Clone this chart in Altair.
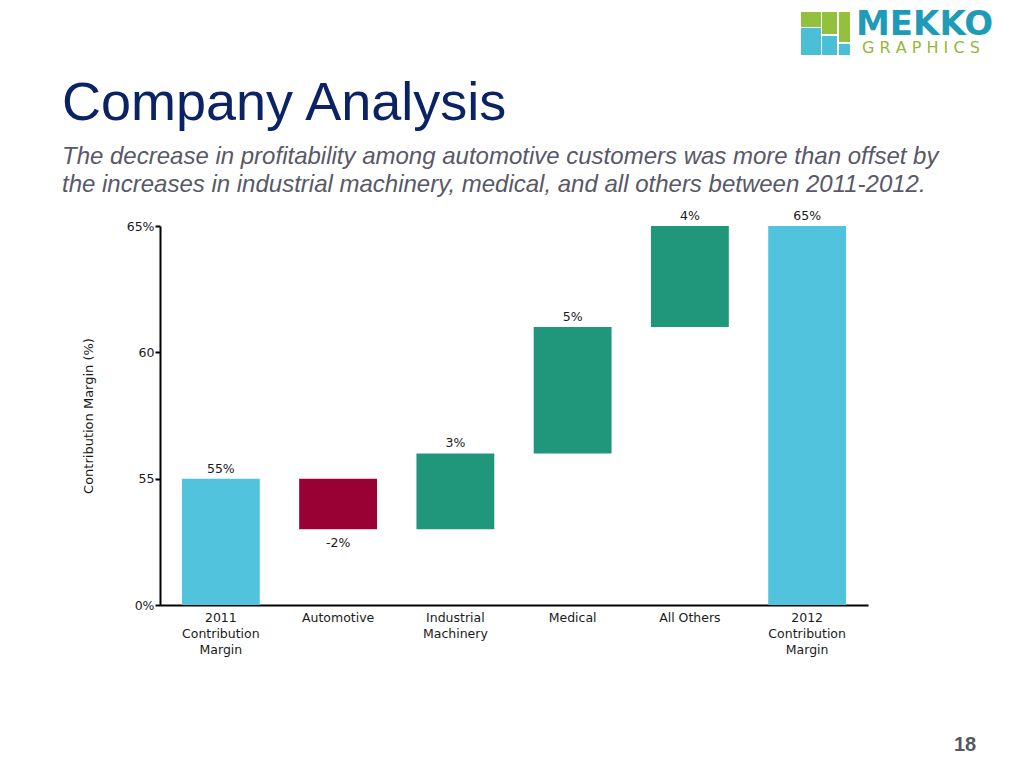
import altair as alt
import pandas as pd

categories = ["2011|Contribution|Margin", "Automotive", "Industrial|Machinery",
              "Medical", "All Others", "2012|Contribution|Margin"]
starts = [0, 55, 53, 56, 61, 0]
ends = [55, 53, 56, 61, 65, 65]
kinds = ["total", "neg", "pos", "pos", "pos", "total"]
value_labels = ["55%", "-2%", "3%", "5%", "4%", "65%"]
y_ticks = [0, 55, 60, 65]

title_text = "Company Analysis"
subtitle_lines = [
    "The decrease in profitability among automotive customers was more than offset by",
    "the increases in industrial machinery, medical, and all others between 2011-2012.",
]
page_number = "18"

df = pd.DataFrame({
    "cat": categories,
    "start": starts,
    "end": ends,
    "kind": kinds,
    "label": value_labels,
})
df["top"] = df[["start", "end"]].max(axis=1)
df["bottom"] = df[["start", "end"]].min(axis=1)

W, H = 708, 379
FONT = "DejaVu Sans"

xscale = alt.Scale(domain=categories, paddingInner=0.336, paddingOuter=0.187)
# broken axis: everything from 0 to 50 collapses onto the baseline
yscale = alt.Scale(domain=[0, 50, 65], range=[H, H, 0], nice=False, zero=False)

base = alt.Chart(df)

bars = base.mark_bar().encode(
    x=alt.X("cat:N", scale=xscale, sort=categories, title=None,
            axis=alt.Axis(labelExpr="split(datum.label, '|')", labelAngle=0,
                          labelFont=FONT, labelFontSize=12.5, labelColor="#1a1a1a",
                          labelLineHeight=16, labelPadding=6, ticks=False,
                          domainColor="#000000", domainWidth=2, labelBaseline="top")),
    y=alt.Y("start:Q", scale=yscale, title="Contribution Margin (%)",
            axis=alt.Axis(values=y_ticks, grid=False,
                          labelExpr="(datum.value == 0 || datum.value == 65) ? datum.value + '%' : datum.value",
                          labelFont=FONT, labelFontSize=12.5, labelColor="#1a1a1a",
                          labelPadding=1, tickSize=5, tickWidth=2, tickColor="#000000",
                          domainColor="#000000", domainWidth=2,
                          titleFont=FONT, titleFontSize=13, titleFontWeight="normal",
                          titleColor="#1a1a1a", titleX=-72, titleAngle=-90,
                          titleAlign="center", titleBaseline="middle")),
    y2="end:Q",
    color=alt.Color("kind:N", legend=None,
                    scale=alt.Scale(domain=["total", "neg", "pos"],
                                    range=["#52C3DC", "#990033", "#20967A"])),
)

labels_up = base.transform_filter("datum.kind != 'neg'").mark_text(
    font=FONT, fontSize=12.5, color="#1a1a1a", baseline="alphabetic", dy=-6
).encode(x=alt.X("cat:N", scale=xscale, sort=categories),
         y=alt.Y("top:Q", scale=yscale), text="label:N")

labels_down = base.transform_filter("datum.kind == 'neg'").mark_text(
    font=FONT, fontSize=12.5, color="#1a1a1a", baseline="alphabetic", dy=18
).encode(x=alt.X("cat:N", scale=xscale, sort=categories),
         y=alt.Y("bottom:Q", scale=yscale), text="label:N")

one = pd.DataFrame({"k": [0]})

title = alt.Chart(one).mark_text(
    text=title_text, font="Liberation Sans", fontSize=54, color="#0B2265",
    align="left", baseline="alphabetic"
).encode(x=alt.value(-98), y=alt.value(-106))

subtitle = alt.Chart(one).mark_text(
    text=subtitle_lines, font="Liberation Sans", fontSize=24, fontStyle="italic",
    color="#585868", align="left", baseline="alphabetic", lineHeight=28
).encode(x=alt.value(-98), y=alt.value(-62))

# logo decoration
logo_rects = pd.DataFrame({
    "x1": [641, 662, 679, 641, 662, 679],
    "x2": [661, 677, 690, 661, 677, 690],
    "y1": [-214, -214, -214, -198, -190, -182],
    "y2": [-199, -192, -184, -171, -171, -171],
    "c": ["#93C13E", "#93C13E", "#93C13E", "#4BBFD6", "#4BBFD6", "#4BBFD6"],
})
logo = alt.Chart(logo_rects).mark_rect().encode(
    x=alt.X("x1:Q", scale=None), x2="x2:Q",
    y=alt.Y("y1:Q", scale=None), y2="y2:Q",
    color=alt.Color("c:N", scale=None),
)
mekko = alt.Chart(one).mark_text(
    text="MEKKO", font="DejaVu Sans", fontWeight="bold", fontSize=34, color="#1E9BB6",
    align="left", baseline="alphabetic"
).encode(x=alt.value(696), y=alt.value(-191))
graphics = alt.Chart(one).mark_text(
    text="G R A P H I C S", font="DejaVu Sans", fontSize=16, color="#93B83A",
    align="left", baseline="alphabetic"
).encode(x=alt.value(702), y=alt.value(-173))

page = alt.Chart(one).mark_text(
    text=page_number, font="Liberation Sans", fontWeight="bold", fontSize=20,
    color="#55565E", align="left", baseline="alphabetic"
).encode(x=alt.value(794), y=alt.value(525))

chart = alt.layer(
    bars, labels_up, labels_down, title, subtitle, logo, mekko, graphics, page
).properties(
    width=W, height=H,
    background="white",
    autosize=alt.AutoSizeParams(type="none"),
    padding={"left": 152, "top": 218, "right": 140, "bottom": 150},
).configure_view(strokeWidth=0, stroke="transparent")

chart.save("out.html", embed_options={"renderer": "svg", "actions": False})
